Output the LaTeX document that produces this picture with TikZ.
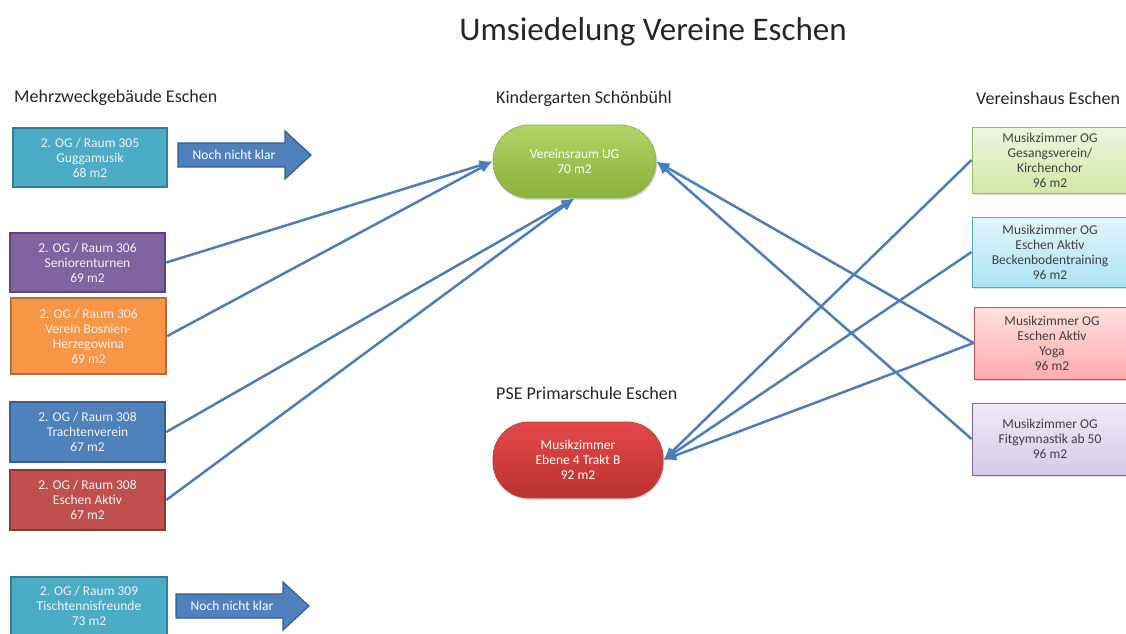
\documentclass[tikz,border=0pt]{standalone}
\usepackage{fontspec}
\setmainfont{Carlito}
\usetikzlibrary{arrows.meta,shadows}

\definecolor{tealF}{HTML}{4BACC6}\definecolor{tealD}{HTML}{357D91}
\definecolor{purpF}{HTML}{8064A2}\definecolor{purpD}{HTML}{5C4776}
\definecolor{orngF}{HTML}{F79646}\definecolor{orngD}{HTML}{B66D31}
\definecolor{blueF}{HTML}{4F81BD}\definecolor{blueD}{HTML}{385D8A}
\definecolor{redF}{HTML}{C0504D}\definecolor{redD}{HTML}{8C3836}
\definecolor{linkC}{HTML}{4A7EBB}
\definecolor{headC}{HTML}{262626}
\definecolor{darkT}{HTML}{404040}
% target rooms
\definecolor{kigaTop}{HTML}{AFD466}\definecolor{kigaBot}{HTML}{8AB03C}\definecolor{kigaEdge}{HTML}{94B356}
\definecolor{pseTop}{HTML}{E4484A}\definecolor{pseBot}{HTML}{BA3230}\definecolor{pseEdge}{HTML}{B8423F}
% Vereinshaus rooms
\definecolor{vGreenT}{HTML}{EEF6DE}\definecolor{vGreenB}{HTML}{D3E8A6}\definecolor{vGreenE}{HTML}{9BBB59}
\definecolor{vCyanT}{HTML}{E2F5FB}\definecolor{vCyanB}{HTML}{ABE3F4}\definecolor{vCyanE}{HTML}{4BACC6}
\definecolor{vPinkT}{HTML}{FFE0E0}\definecolor{vPinkB}{HTML}{FFAAAA}\definecolor{vPinkE}{HTML}{C0504D}
\definecolor{vLavT}{HTML}{EFEAF5}\definecolor{vLavB}{HTML}{D6CAE8}\definecolor{vLavE}{HTML}{8064A2}

\tikzset{
  boxfont/.style={font=\fontsize{13.5}{15}\selectfont},
  leftbox/.style={draw=#1D, fill=#1F, line width=2.5pt, text=white!95!black,
    align=center, boxfont, inner sep=0pt},
  rightbox/.style={draw=v#1E, top color=v#1T, bottom color=v#1B, line width=0.9pt,
    text=darkT, align=center, boxfont, inner sep=0pt, minimum width=156pt,
    drop shadow={shadow xshift=1.5pt, shadow yshift=-1.5pt, opacity=0.25}},
  pill/.style={draw=#1Edge, top color=#1Top, bottom color=#1Bot, line width=0.8pt,
    rounded corners=36pt, align=center, text=white, boxfont, inner sep=0pt,
    drop shadow={shadow xshift=1pt, shadow yshift=-2pt, opacity=0.3}},
  heading/.style={anchor=west, text=headC, font=\fontsize{18}{20}\selectfont, inner sep=0pt},
  waitshape/.style={draw=blueD, fill=blueF, line width=1.2pt, line join=miter},
  waittext/.style={text=white, boxfont, inner sep=0pt},
  link/.style={draw=linkC, line width=2.5pt, -{Latex[length=13pt,width=11pt]}},
}

\begin{document}
\begin{tikzpicture}[x=1pt,y=-1pt]
\useasboundingbox (0,0) rectangle (1126,633);

% title and location headings
\node[text=headC, font=\fontsize{33}{36}\selectfont, inner sep=0pt] (title) at (653,32) {Umsiedelung Vereine Eschen};
\node[heading] (hMzg) at (14,98) {Mehrzweckgebäude Eschen};
\node[heading] (hKiga) at (496,99) {Kindergarten Schönbühl};
\node[heading] (hPse) at (496,393) {PSE Primarschule Eschen};
\node[heading] (hVh) at (976,98) {Vereinshaus Eschen};

% rooms in the Mehrzweckgebäude
\node[leftbox=teal, minimum width=154pt, minimum height=59pt] (l1) at (90,157.5)
  {2. OG / Raum 305\\Guggamusik\\68 m2};
\node[leftbox=purp, minimum width=155pt, minimum height=59pt] (l2) at (87.5,262.5)
  {2. OG / Raum 306\\Seniorenturnen\\69 m2};
\node[leftbox=orng, minimum width=155pt, minimum height=76pt] (l3) at (88.5,336)
  {2. OG / Raum 306\\Verein Bosnien-\\Herzegowina\\69 m2};
\node[leftbox=blue, minimum width=155pt, minimum height=60pt] (l4) at (87.5,432)
  {2. OG / Raum 308\\Trachtenverein\\67 m2};
\node[leftbox=red, minimum width=155pt, minimum height=60pt] (l5) at (87.5,500)
  {2. OG / Raum 308\\Eschen Aktiv\\67 m2};
\node[leftbox=teal, minimum width=156pt, minimum height=58pt] (l6) at (89,606)
  {2. OG / Raum 309\\Tischtennisfreunde\\73 m2};

% moves not yet decided: block arrows
\path[waitshape] (178,143) -- (285,143) -- (285,131) -- (311,155) -- (285,179) -- (285,167) -- (178,167) -- cycle;
\node[waittext] (w1) at (234,155) {Noch nicht klar};
\path[waitshape] (176,594) -- (283,594) -- (283,582) -- (309,606) -- (283,630) -- (283,618) -- (176,618) -- cycle;
\node[waittext] (w2) at (232,606) {Noch nicht klar};

% target rooms
\node[pill=kiga, minimum width=163pt, minimum height=73pt] (kiga) at (574.5,161.5)
  {Vereinsraum UG\\70 m2};
\node[pill=pse, minimum width=170pt, minimum height=76pt] (pse) at (578,460)
  {Musikzimmer\\Ebene 4 Trakt B\\92 m2};

% rooms in the Vereinshaus
\node[rightbox=Green, minimum height=66pt] (r1) at (1050,160)
  {Musikzimmer OG\\Gesangsverein/\\Kirchenchor\\96 m2};
\node[rightbox=Cyan, minimum height=70pt] (r2) at (1050,252)
  {Musikzimmer OG\\Eschen Aktiv\\Beckenbodentraining\\96 m2};
\node[rightbox=Pink, minimum height=72pt] (r3) at (1052,343)
  {Musikzimmer OG\\Eschen Aktiv\\Yoga\\96 m2};
\node[rightbox=Lav, minimum height=72pt] (r4) at (1050,439)
  {Musikzimmer OG\\Fitgymnastik ab 50\\96 m2};

% moves
\draw[link] (l2.east) -- (kiga.west);
\draw[link] (l3.east) -- (kiga.west);
\draw[link] (l4.east) -- (kiga.south);
\draw[link] (l5.east) -- (kiga.south);
\draw[link] (r3.west) -- (kiga.east);
\draw[link] (r4.west) -- (kiga.east);
\draw[link] (r1.west) -- (pse.east);
\draw[link] (r2.west) -- (pse.east);
\draw[link] (r3.west) -- (pse.east);
\end{tikzpicture}
\end{document}
